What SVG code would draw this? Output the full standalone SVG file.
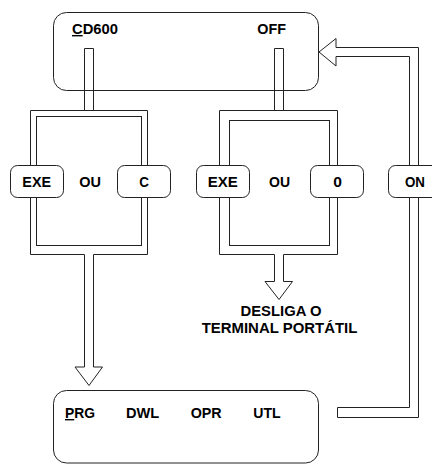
<svg xmlns="http://www.w3.org/2000/svg" width="432" height="464" viewBox="0 0 432 464">
<style>
.ln{fill:none;stroke:#222;stroke-width:1}
.bx{fill:#fff;stroke:#222;stroke-width:1}
.t{font-family:"Liberation Sans",Arial,sans-serif;font-weight:bold;font-size:14px;fill:#000}
.m{text-anchor:middle}
</style>
<rect width="432" height="464" fill="#fff"/>
<g id="connectors">
  <path class="ln" d="M84.5,110.5 V48.5 H93.5 V110.5"/>
  <path class="ln" d="M274.5,110.5 V48.5 H283.5 V110.5"/>
  <path class="ln" d="M30.5,254.5 H84.5 V367 H75 L89,385.5 L102.5,367 H93.5 V254.5 H147.5 V110.5 H30.5 Z"/>
  <rect class="ln" x="36.5" y="116.5" width="105" height="129"/>
  <path class="ln" d="M219.5,254.5 H274.5 V281.5 H265 L279,299.5 L292.5,281.5 H283.5 V254.5 H337.5 V110.5 H219.5 Z"/>
  <rect class="ln" x="229.5" y="120.5" width="100" height="125"/>
  <path class="ln" d="M336,47.5 H418.5 V417.5 H337.5 V407.5 H409.5 V56.5 H336 V66 L319,52 L336,38.5 Z"/>
</g>
<g id="cd600">
  <rect class="ln" x="53.5" y="12.5" width="265" height="78" rx="13"/>
  <text class="t" x="72" y="34" textLength="46" lengthAdjust="spacingAndGlyphs"><tspan style="text-decoration:underline">C</tspan>D600</text>
  <text class="t" x="257.3" y="34" textLength="28.7" lengthAdjust="spacingAndGlyphs">OFF</text>
</g>
<g id="exe1">
  <rect class="bx" x="10.5" y="165.5" width="53" height="32" rx="7"/>
  <text class="t m" x="36.7" y="186.7" textLength="28.7" lengthAdjust="spacingAndGlyphs">EXE</text>
</g>
<text id="ou1" class="t m" x="90" y="186.7" textLength="21.7" lengthAdjust="spacingAndGlyphs">OU</text>
<g id="c">
  <rect class="bx" x="117.5" y="165.5" width="53" height="32" rx="7"/>
  <text class="t m" x="144" y="186.7" textLength="9.7" lengthAdjust="spacingAndGlyphs">C</text>
</g>
<g id="exe2">
  <rect class="bx" x="196.5" y="165.5" width="53" height="32" rx="7"/>
  <text class="t m" x="222.7" y="186.7" textLength="30" lengthAdjust="spacingAndGlyphs">EXE</text>
</g>
<text id="ou2" class="t m" x="279.5" y="186.7" textLength="21" lengthAdjust="spacingAndGlyphs">OU</text>
<g id="zero">
  <rect class="bx" x="310.5" y="165.5" width="53" height="32" rx="7"/>
  <text class="t m" x="337.5" y="186.7" textLength="8.7" lengthAdjust="spacingAndGlyphs">0</text>
</g>
<g id="on">
  <rect class="bx" x="388.5" y="165.5" width="53" height="32" rx="7"/>
  <text class="t m" x="415" y="186.7" textLength="20" lengthAdjust="spacingAndGlyphs">ON</text>
</g>
<g id="desliga">
  <text class="t m" x="281" y="316" textLength="81" lengthAdjust="spacingAndGlyphs">DESLIGA O</text>
  <text class="t m" x="279.5" y="333.3" textLength="155.7" lengthAdjust="spacingAndGlyphs">TERMINAL PORTÁTIL</text>
</g>
<g id="menu">
  <rect class="ln" x="53.5" y="390.5" width="265" height="72.5" rx="13"/>
  <text class="t" x="65" y="418" textLength="30" lengthAdjust="spacingAndGlyphs"><tspan style="text-decoration:underline">P</tspan>RG</text>
  <text class="t" x="126" y="418" textLength="33.3" lengthAdjust="spacingAndGlyphs">DWL</text>
  <text class="t" x="190.7" y="418" textLength="31" lengthAdjust="spacingAndGlyphs">OPR</text>
  <text class="t" x="253.3" y="418" textLength="27.4" lengthAdjust="spacingAndGlyphs">UTL</text>
</g>
</svg>
